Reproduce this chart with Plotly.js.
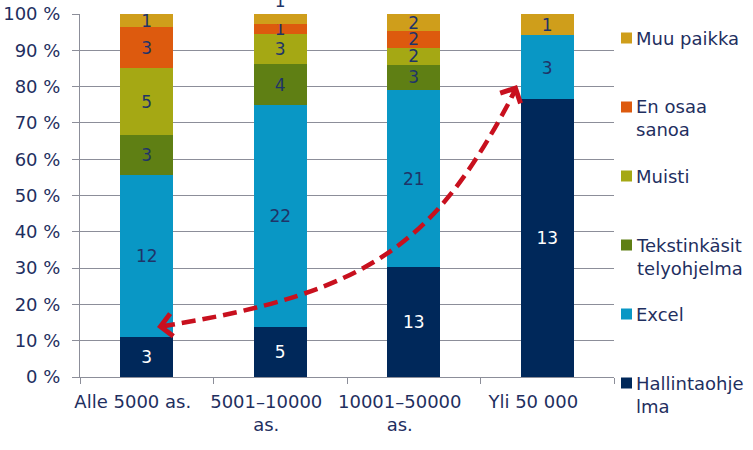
<!DOCTYPE html>
<html>
<head>
<meta charset="utf-8">
<script src="https://cdn.plot.ly/plotly-3.0.1.min.js"></script>
<style>html,body{margin:0;padding:0;background:#fff;}#chart{width:753px;height:450px;}</style>
</head>
<body>
<div id="chart"></div>
<script>
// ---- data ----
const categories = ['Alle 5000 as.', '5001–10000<br>as.', '10001–50000<br>as.', 'Yli 50 000'];
const seriesNames = ['Hallintaohjelma', 'Excel', 'Tekstinkäsittelyohjelma', 'Muisti', 'En osaa sanoa', 'Muu paikka'];
const legendLabels = ['Hallintaohje<br>lma', 'Excel', 'Tekstinkäsit<br>telyohjelma', 'Muisti', 'En osaa<br>sanoa', 'Muu paikka'];
const hallinta = [3, 5, 13, 13];
const excel = [12, 22, 21, 3];
const teksti = [3, 4, 3, 0];
const muisti = [5, 3, 2, 0];
const enOsaa = [3, 1, 2, 0];
const muuPaikka = [1, 1, 2, 1];
const seriesValues = [hallinta, excel, teksti, muisti, enOsaa, muuPaikka];

// ---- styles ----
const colors = ['#00285A', '#0997C5', '#5F7F14', '#A5A814', '#DD5A0E', '#CF9E1B'];
const textColors = ['#FFFFFF', '#1F3468', '#1F3468', '#1F3468', '#1F3468', '#1F3468'];
const navy = '#1F2F5F';
const grid = '#8C8E99';
const FONT = 'DejaVu Sans, Verdana, sans-serif';

const traces = seriesValues.map((vals, i) => ({
  type: 'bar',
  name: seriesNames[i],
  x: categories,
  y: vals,
  text: vals.map(v => v ? String(v) : ''),
  texttemplate: '%{text}',
  textposition: i === 5 ? ['inside', 'outside', 'inside', 'inside'] : 'inside',
  insidetextanchor: 'middle',
  textangle: 0,
  cliponaxis: false,
  insidetextfont: {family: FONT, size: 18, color: textColors[i]},
  outsidetextfont: {family: FONT, size: 17, color: textColors[i]},
  marker: {color: colors[i], line: {width: 0}},
  showlegend: false,
  hoverinfo: 'skip'
}));

// plot area in pixels: x 80..614, y 14..377
const L = 80, R = 614, T = 14, B = 377;
const px = x => (x - L) / (R - L);
const py = y => (B - y) / (B - T);

const shapes = [];
const annotations = [];

// custom legend (top to bottom: reversed series order)
for (let k = 0; k < seriesNames.length; k++) {
  const i = seriesNames.length - 1 - k;
  const c = 38 + 69 * k;
  shapes.push({type: 'rect', xref: 'paper', yref: 'paper',
    x0: px(621), x1: px(632), y0: py(c + 5.5), y1: py(c - 5.5),
    fillcolor: colors[i], line: {width: 0}});
  annotations.push({xref: 'paper', yref: 'paper', x: px(634), y: py(c - 12.5),
    xanchor: 'left', yanchor: 'top', align: 'left', showarrow: false,
    text: legendLabels[i], font: {family: FONT, size: 18, color: navy}});
}

// curved dashed double-headed arrow
const arrowColor = '#C8101E';
shapes.push({type: 'path', xref: 'paper', yref: 'paper',
  path: `M ${px(161)} ${py(326.5)} C ${px(377)} ${py(292)} ${px(437)} ${py(240)} ${px(515)} ${py(91)}`,
  line: {color: arrowColor, width: 4.5, dash: '14px,7px'}});
annotations.push({xref: 'paper', yref: 'paper', x: px(157), y: py(327), ax: 14, ay: -2,
  text: '', showarrow: true, arrowhead: 4, arrowsize: 1.25, arrowwidth: 3.5, arrowcolor: arrowColor, standoff: 0});
annotations.push({xref: 'paper', yref: 'paper', x: px(517), y: py(85), ax: -7, ay: 14,
  text: '', showarrow: true, arrowhead: 4, arrowsize: 1.25, arrowwidth: 3.5, arrowcolor: arrowColor, standoff: 0});

const layout = {
  width: 753, height: 450,
  margin: {l: L, r: 753 - R, t: T, b: 450 - B, pad: 0},
  paper_bgcolor: '#FFFFFF', plot_bgcolor: '#FFFFFF',
  barmode: 'stack', barnorm: 'percent', bargap: 0.6,
  showlegend: false,
  uniformtext: {minsize: 17, mode: 'show'},
  font: {family: FONT, size: 18, color: navy},
  xaxis: {
    type: 'category', tickson: 'boundaries', ticks: 'outside', ticklen: 6, tickcolor: grid,
    showline: true, linecolor: grid, linewidth: 1, showgrid: false,
    tickfont: {family: FONT, size: 18, color: navy}, ticklabelstandoff: 8, ticklabelshift: -14,
    fixedrange: true
  },
  yaxis: {
    range: [0, 100], dtick: 10, tick0: 0, ticksuffix: ' %',
    ticks: 'outside', ticklen: 7, tickcolor: grid,
    showline: true, linecolor: grid, linewidth: 1,
    showgrid: true, gridcolor: grid, gridwidth: 1, zeroline: false,
    tickfont: {family: FONT, size: 18, color: navy}, ticklabelstandoff: 8,
    fixedrange: true
  },
  shapes: shapes,
  annotations: annotations,
  hovermode: false
};

Plotly.newPlot('chart', traces, layout, {displayModeBar: false, staticPlot: true});
</script>
</body>
</html>
